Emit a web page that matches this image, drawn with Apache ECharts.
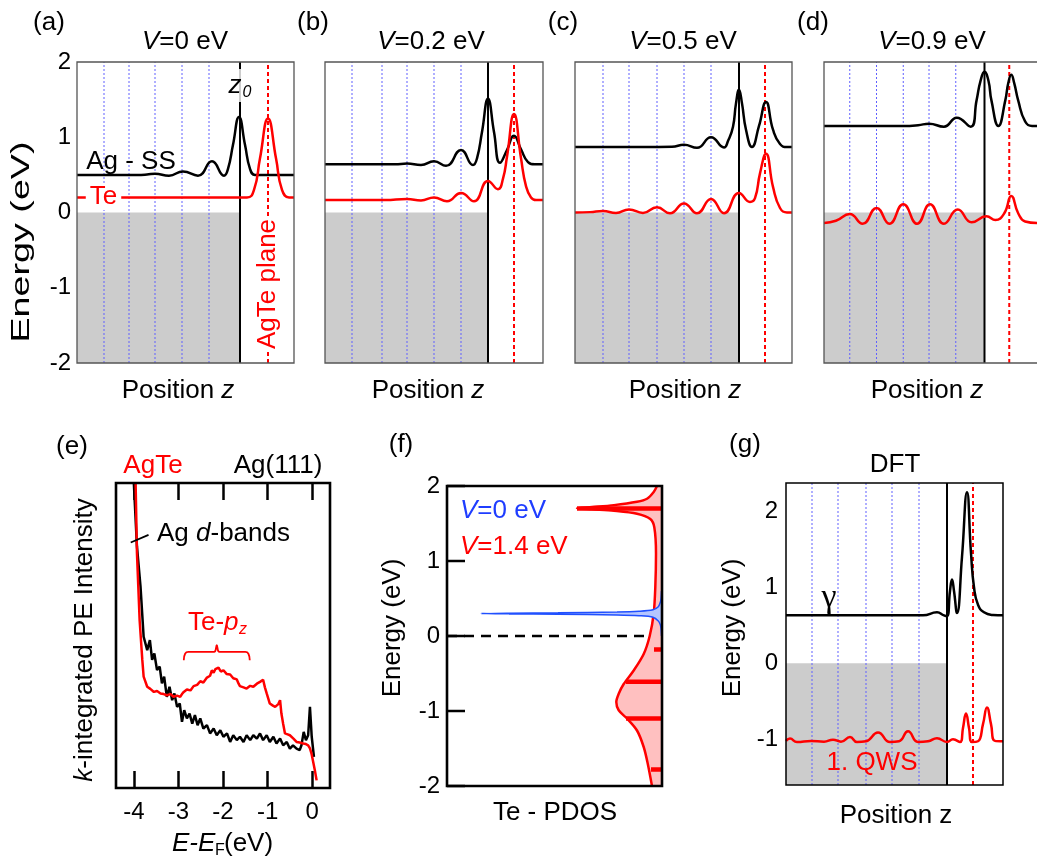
<!DOCTYPE html>
<html>
<head>
<meta charset="utf-8">
<script src="https://cdn.jsdelivr.net/npm/echarts@6.0.0/dist/echarts.min.js"></script>
<style>
html,body{margin:0;padding:0;background:#fff;}
#chart{width:1037px;height:863px;}
</style>
</head>
<body>
<div id="chart"></div>
<script>
// ================= DATA =================
// Panels (a)-(d),(g): x = position along z (offset units), y = energy (eV)
const layersA = [27, 52, 78, 105, 132], z0A = 163, planeA = 191;
const blackA = [[0,0.5],[60,0.5],[70,0.505],[78,0.515],[92,0.49],[106,0.545],[121,0.49],[135,0.68],[147,0.49],[151,0.58],[156,0.9],[162,1.27],[168,0.9],[173,0.58],[178,0.5],[186,0.5],[217,0.5]];
const redA = [[0,0.2],[170,0.2],[177,0.3],[183,0.72],[191,1.25],[199,0.72],[205,0.3],[212,0.2],[217,0.2]];

const layersB = [27, 57, 82, 109, 136], z0B = 163, planeB = 189;
const blackB = [[0,0.64],[70,0.64],[82,0.65],[96,0.63],[109,0.68],[121,0.62],[136,0.83],[148,0.63],[152,0.72],[157,1.07],[163,1.51],[169,1.07],[175,0.66],[182,0.83],[189,1.02],[196,0.84],[203,0.67],[210,0.64],[218,0.64]];
const redB = [[0,0.166],[60,0.166],[82,0.18],[96,0.16],[109,0.2],[122,0.15],[136,0.26],[149,0.15],[163,0.42],[173,0.31],[178,0.45],[182,0.74],[189,1.31],[196,0.72],[201,0.35],[206,0.2],[211,0.166],[218,0.166]];

const layersC = [28, 54, 82, 109, 136], z0C = 164, planeC = 190;
const blackC = [[0,0.87],[70,0.87],[97,0.875],[109,0.9],[122,0.86],[136,1.0],[149,0.865],[153,0.95],[158,1.14],[161,1.45],[164,1.63],[167,1.45],[171,1.1],[177,0.87],[184,1.15],[191,1.47],[198,1.1],[205,0.91],[212,0.87],[217,0.87]];
const redC = [[0,0],[15,0.005],[28,0.02],[41,-0.005],[54,0.04],[68,-0.005],[82,0.07],[95,-0.01],[109,0.12],[122,-0.01],[136,0.18],[149,-0.01],[164,0.26],[175,0.14],[180,0.19],[185,0.52],[191,0.78],[198,0.34],[205,0.06],[212,0],[217,0]];

const layersD = [26, 53, 80, 106, 133], z0D = 162, planeD = 187;
const blackD = [[0,1.15],[80,1.15],[95,1.16],[106,1.18],[121,1.14],[134,1.26],[148,1.14],[154,1.49],[158,1.75],[162,1.87],[166,1.75],[169,1.49],[176,1.15],[183,1.49],[186,1.72],[189,1.83],[192,1.72],[196,1.49],[203,1.21],[210,1.15],[215,1.15]];
const redD = [[0,-0.14],[12,-0.11],[26,-0.02],[39,-0.15],[53,0.06],[66,-0.15],[80,0.11],[94,-0.15],[107,0.11],[121,-0.15],[135,0.04],[149,-0.13],[164,-0.05],[173,-0.1],[182,-0.01],[189,0.22],[196,-0.01],[203,-0.12],[215,-0.14]];

const layersG = [26, 52, 80, 106, 133], z0G = 161, planeG = 187;
const blackG = [[0,0.63],[137,0.63],[151,0.67],[158,0.63],[161,0.62],[164,0.95],[166,1.1],[168,0.95],[171,0.66],[176,1.4],[181,2.25],[185,1.45],[188,1.0],[192,0.77],[198,0.67],[207,0.635],[217,0.63]];
const redG = [[0,-1.02],[4,-0.99],[11,-1.035],[25,-1.02],[38,-1.03],[47,-1.005],[55,-1.03],[64,-0.97],[71,-1.035],[80,-1.025],[92,-0.91],[104,-1.035],[113,-1.025],[122,-0.895],[132,-1.035],[142,-1.025],[151,-0.985],[161,-1.035],[167,-1.0],[174,-1.035],[177,-0.85],[180,-0.66],[183,-0.85],[186,-1.035],[192,-1.025],[197,-0.8],[201,-0.58],[205,-0.8],[209,-1.02],[217,-1.025]];
const gTicks = [-1, 0, 1, 2];

// Panel (e): x = E-E_F (eV), y = intensity (arb. units)
const eTicks = [-4, -3, -2, -1, 0];
const eAgTe = [[-3.96,100],[-3.93,77],[-3.87,55],[-3.81,42],[-3.78,36.5],[-3.70,33.2],[-3.63,32.5],[-3.55,31.5],[-3.48,31.8],[-3.40,31],[-3.33,30.8],[-3.26,30.4],[-3.18,30.8],[-3.11,29.9],[-3.03,30.3],[-2.96,29.9],[-2.92,30.8],[-2.88,31.5],[-2.81,32.3],[-2.73,32.0],[-2.66,33.4],[-2.58,33.8],[-2.51,35],[-2.44,34.6],[-2.36,36.2],[-2.29,36.8],[-2.25,38.6],[-2.21,37.8],[-2.17,39.0],[-2.10,39.5],[-2.05,38.2],[-1.99,38.6],[-1.92,37.4],[-1.84,37.2],[-1.77,36.0],[-1.69,35.6],[-1.65,34.2],[-1.62,33.4],[-1.54,33.0],[-1.47,32.6],[-1.39,33.5],[-1.32,33.2],[-1.24,34.2],[-1.17,34.8],[-1.10,35.5],[-1.06,33.0],[-1.02,31.0],[-0.95,27.7],[-0.88,27.0],[-0.83,26.6],[-0.76,27.5],[-0.72,28.8],[-0.69,24.4],[-0.65,21],[-0.61,17.9],[-0.55,17.6],[-0.50,17.3],[-0.42,16.2],[-0.35,15.1],[-0.28,14.9],[-0.20,14.6],[-0.14,14.4],[-0.09,14.0],[-0.05,13.0],[-0.015,11.3],[0.03,8],[0.06,5.8],[0.10,2.5]];
const eAg111 = [[-4.0,100],[-3.93,79.2],[-3.85,66],[-3.78,49.6],[-3.70,45.2],[-3.64,48.5],[-3.59,42],[-3.54,44.1],[-3.48,38.7],[-3.42,39.8],[-3.37,34.3],[-3.32,36.5],[-3.26,29.9],[-3.20,33.2],[-3.14,28.8],[-3.09,31],[-3.03,26.6],[-2.97,27.7],[-2.92,21.7],[-2.87,25.5],[-2.81,22.8],[-2.75,24.4],[-2.69,21.1],[-2.63,23.9],[-2.57,20.6],[-2.51,22.8],[-2.44,19.5],[-2.36,20.6],[-2.29,17.9],[-2.21,19.5],[-2.14,17.3],[-2.06,18.9],[-1.99,16.8],[-1.91,17.9],[-1.84,15.1],[-1.77,17.3],[-1.69,15.7],[-1.62,16.8],[-1.54,15.1],[-1.47,17.3],[-1.39,15.7],[-1.32,17.3],[-1.24,16.2],[-1.17,17.9],[-1.10,15.7],[-1.02,17.3],[-0.95,15.1],[-0.87,16.8],[-0.80,14.6],[-0.72,16.2],[-0.65,14.0],[-0.57,15.1],[-0.50,12.9],[-0.43,14.0],[-0.35,12.9],[-0.28,12.4],[-0.24,14.0],[-0.19,18.4],[-0.14,15.7],[-0.09,17.3],[-0.05,26.6],[-0.01,16.8],[0.04,10.2]];
const eBrace = [[-2.88,41.9],[-2.85,44.0],[-2.78,44.6],[-2.20,44.6],[-2.14,46.8],[-2.08,44.6],[-1.50,44.6],[-1.43,44.0],[-1.40,41.9]];
const ePointer = [[-4.07,80.5],[-3.67,83.0]];

// Panel (f): x = Te PDOS (arb. units, grows to the left), y = energy (eV)
const fTicks = [-2, -1, 0, 1, 2];
const fRed = [[5,2.0],[8.3,1.92],[15,1.83],[25,1.79],[48,1.745],[70,1.72],[85,1.705],[70,1.69],[48,1.67],[25,1.63],[11.7,1.56],[7.7,1.45],[6,1.1],[6.7,0.65],[8.3,0.3],[12.3,0.0],[18.3,-0.24],[28.3,-0.46],[38.3,-0.64],[43.3,-0.77],[45.7,-0.88],[43.3,-0.99],[35,-1.1],[25,-1.26],[18.3,-1.48],[14.3,-1.7],[10,-2.0]];
const fBlue = [[0.5,0.6],[1.0,0.5],[1.7,0.45],[3.7,0.39],[9,0.35],[23,0.33],[45,0.32],[104,0.31],[153,0.305],[181,0.3],[153,0.295],[104,0.29],[45,0.28],[23,0.27],[9,0.25],[3.7,0.2],[1.7,0.15],[1.0,0.1],[0.5,0.0]];
const fBarE = [1.7, -0.18, -0.61, -1.1, -1.78];
const fBarLen = [85, 8, 36, 36, 11];
const fZero = [[215,0],[12,0]];

// ================= LAYOUT / STYLE =================
const F = '"Liberation Sans", Arial, Helvetica, sans-serif';
const RED = '#ff0000', BLK = '#000000', BLUEDOT = '#6060ff', GRAY = '#cccccc';
const FS = 26;
const G = [
  {left:77,  top:62,  width:217, height:301},   // a
  {left:325, top:62,  width:218, height:301},   // b
  {left:575, top:62,  width:217, height:301},   // c
  {left:824, top:62,  width:215, height:301},   // d
  {left:116, top:483, width:214, height:305},   // e
  {left:447, top:486, width:215, height:300},   // f
  {left:786, top:483, width:217, height:302}    // g
];

function hiddenX(gi, max) { return {gridIndex: gi, type: 'value', min: 0, max: max, show: false}; }
function hiddenY(gi, mn, mx) { return {gridIndex: gi, type: 'value', min: mn, max: mx, show: false}; }

const xAxis = [
  hiddenX(0, G[0].width), hiddenX(1, G[1].width), hiddenX(2, G[2].width), hiddenX(3, G[3].width),
  {gridIndex: 4, type: 'value', min: -4.4, max: 0.4, position: 'bottom',
   axisLine: {show: false, onZero: false}, splitLine: {show: false},
   axisTick: {inside: true, length: 17, customValues: eTicks, lineStyle: {color: BLK, width: 2.5}},
   axisLabel: {customValues: eTicks, fontSize: 24, fontFamily: F, color: BLK, margin: 12}},
  {gridIndex: 5, type: 'value', min: 0, max: 215, inverse: true, show: false},
  hiddenX(6, G[6].width),
  {gridIndex: 4, type: 'value', min: -4.4, max: 0.4, position: 'top',
   axisLine: {show: false, onZero: false}, splitLine: {show: false}, axisLabel: {show: false},
   axisTick: {inside: true, length: 17, customValues: eTicks, lineStyle: {color: BLK, width: 2.5}}}
];
const yAxis = [
  {gridIndex: 0, type: 'value', min: -2, max: 2, interval: 1, position: 'left',
   axisLine: {show: false, onZero: false}, axisTick: {show: false}, splitLine: {show: false},
   axisLabel: {fontSize: 24, fontFamily: F, color: BLK, margin: 6}},
  hiddenY(1, -2, 2), hiddenY(2, -2, 2), hiddenY(3, -2, 2),
  hiddenY(4, 0, 100),
  {gridIndex: 5, type: 'value', min: -2, max: 2, interval: 1, position: 'left',
   axisLine: {show: false, onZero: false}, splitLine: {show: false}, axisTick: {show: false},
   axisLabel: {fontSize: 24, fontFamily: F, color: BLK, margin: 7}},
  {gridIndex: 6, type: 'value', min: -1.6, max: 2.37, position: 'left',
   axisLine: {show: false, onZero: false}, axisTick: {show: false}, splitLine: {show: false},
   axisLabel: {customValues: gTicks, fontSize: 24, fontFamily: F, color: BLK, margin: 8}}
];

function curve(ax, data, color, z, smooth, width) {
  return {type: 'line', xAxisIndex: ax, yAxisIndex: ax, data: data, smooth: smooth === undefined ? 0.5 : smooth,
    symbol: 'none', lineStyle: {color: color, width: width || 2.5}, z: z || 5, silent: true};
}
function vlines(ax, xs, y0, y1, style, z) {
  return {type: 'custom', xAxisIndex: ax, yAxisIndex: ax, z: z, silent: true,
    data: xs.map(function (x) { return [x, y0, y1]; }),
    renderItem: function (p, api) {
      const a = api.coord([api.value(0), api.value(1)]);
      const b = api.coord([api.value(0), api.value(2)]);
      return {type: 'line', shape: {x1: a[0], y1: a[1], x2: b[0], y2: b[1]}, style: style};
    }};
}
function box(ax, x0, x1, y0, y1, fill, z) {
  return {type: 'custom', xAxisIndex: ax, yAxisIndex: ax, z: z, silent: true,
    data: [[x0, y0, x1, y1]],
    renderItem: function (p, api) {
      const a = api.coord([api.value(0), api.value(3)]);
      const b = api.coord([api.value(2), api.value(1)]);
      return {type: 'rect', shape: {x: a[0], y: a[1], width: b[0] - a[0], height: b[1] - a[1]}, style: {fill: fill}};
    }};
}
function poly(ax, pts, fill, z) {
  return {type: 'custom', xAxisIndex: ax, yAxisIndex: ax, z: z, silent: true, data: [[0, 0]],
    renderItem: function (p, api) {
      return {type: 'polygon', shape: {points: pts.map(function (q) { return api.coord(q); })}, style: {fill: fill}};
    }};
}

const blueDot = {stroke: BLUEDOT, lineWidth: 1, lineDash: [2, 2]};
const redDot = {stroke: RED, lineWidth: 2, lineDash: [4, 3]};
const blackSolid = {stroke: BLK, lineWidth: 2};

function potentialPanel(ax, layers, z0, plane, black, red, ymin, ymax) {
  return [
    box(ax, 0, z0, ymin, 0, GRAY, 1),
    vlines(ax, layers, ymin, ymax, blueDot, 2),
    vlines(ax, [z0], ymin, ymax, blackSolid, 2),
    vlines(ax, [plane], ymin, ymax, redDot, 2),
    curve(ax, black, BLK, 5),
    curve(ax, red, RED, 5)
  ];
}

let series = [];
series = series.concat(potentialPanel(0, layersA, z0A, planeA, blackA, redA, -2, 2));
series = series.concat(potentialPanel(1, layersB, z0B, planeB, blackB, redB, -2, 2));
series = series.concat(potentialPanel(2, layersC, z0C, planeC, blackC, redC, -2, 2));
series = series.concat(potentialPanel(3, layersD, z0D, planeD, blackD, redD, -2, 2));
series = series.concat(potentialPanel(6, layersG, z0G, planeG, blackG, redG, -1.6, 2.37));
// (e)
series.push(curve(4, eAg111, BLK, 5, false, 2.5));
series.push(curve(4, eAgTe, RED, 6, false, 2.5));
series.push(curve(4, eBrace, RED, 6, 0.4, 1.8));
series.push(curve(4, ePointer, BLK, 6, false, 1.8));
// (f)
series.push(poly(5, [[0, 2]].concat(fRed, [[0, -2]]), '#ffc0c0', 1));
series.push(curve(5, fZero, BLK, 3, false, 2.5));
series[series.length - 1].lineStyle.type = [10, 7];
series.push(curve(5, fRed, RED, 4, 0.3, 2.5));
series.push({type: 'custom', xAxisIndex: 5, yAxisIndex: 5, z: 5, silent: true,
  data: fBarLen.map(function (l, i) { return [l, fBarE[i]]; }),
  renderItem: function (p, api) {
    const a = api.coord([0, api.value(1)]);
    const b = api.coord([api.value(0), api.value(1)]);
    return {type: 'line', shape: {x1: a[0], y1: a[1], x2: b[0], y2: b[1]}, style: {stroke: RED, lineWidth: 4.5}};
  }});
series.push(poly(5, [[0, fBlue[0][1]]].concat(fBlue, [[0, fBlue[fBlue.length - 1][1]]]), '#b5c5ff', 6));
series.push(curve(5, fBlue, '#2050ff', 7, 0.3, 1.5));
// (f) inward y ticks on the left side, placed through the axis scale
series.push({type: 'custom', xAxisIndex: 5, yAxisIndex: 5, z: 8, silent: true,
  data: fTicks.map(function (v) { return [215, v]; }),
  renderItem: function (p, api) {
    const a = api.coord([api.value(0), api.value(1)]);
    return {type: 'line', shape: {x1: a[0], y1: a[1], x2: a[0] + 18, y2: a[1]}, style: {stroke: BLK, lineWidth: 2.5}};
  }});

// ================= TEXT & FRAMES =================
function T(x, y, text, o) {
  o = o || {};
  const fs = o.fs || FS, fill = o.fill || BLK, fam = o.fam || F;
  const el = {
    type: 'text', x: x, y: y, z: o.z || 100, rotation: o.rot || 0, scaleX: o.sx || 1, scaleY: 1, silent: true,
    style: {
      text: text, fill: fill, fontSize: fs, fontFamily: fam, fontStyle: o.it ? 'italic' : 'normal',
      textAlign: o.align || 'center', textVerticalAlign: 'middle',
      rich: {i: {fontStyle: 'italic', fontSize: fs, fontFamily: fam, fill: fill}}
    }
  };
  if (o.bg) { el.style.backgroundColor = o.bg; el.style.padding = o.pad || [0, 3]; }
  return el;
}
function frame(i, stroke, lw) {
  const g = G[i];
  return {type: 'rect', z: 90, silent: true, shape: {x: g.left, y: g.top, width: g.width, height: g.height},
    style: {fill: 'none', stroke: stroke, lineWidth: lw}};
}
const H = Math.PI / 2;
const graphic = [
  frame(0, '#555', 1.3), frame(1, '#555', 1.3), frame(2, '#555', 1.3), frame(3, '#555', 1.3),
  frame(4, BLK, 2.6), frame(5, BLK, 2.6), frame(6, BLK, 1.5),
  // panel labels
  T(49, 23, '(a)'), T(313, 23, '(b)'), T(563, 23, '(c)'), T(813, 23, '(d)'),
  T(72, 447, '(e)'), T(401, 445, '(f)'), T(745, 445, '(g)'),
  // titles
  T(185, 42, '{i|V}=0 eV'), T(431, 42, '{i|V}=0.2 eV'), T(683, 42, '{i|V}=0.5 eV'), T(932, 42, '{i|V}=0.9 eV'),
  // x labels
  T(178, 391, 'Position {i|z}'), T(428, 391, 'Position {i|z}'), T(685, 391, 'Position {i|z}'), T(927, 391, 'Position {i|z}'),
  T(896, 816, 'Position z'),
  // y labels
  T(22, 242, 'Energy (eV)', {rot: H, sx: 1.45}),
  T(393, 628, 'Energy (eV)', {rot: H}),
  T(733, 628, 'Energy (eV)', {rot: H}),
  T(85, 640, '{i|k}-integrated PE Intensity', {rot: H}),
  // (a) annotations
  {type: 'rect', z: 95, silent: true, shape: {x: 230, y: 69, width: 24, height: 33}, style: {fill: 'rgba(255,255,255,0.8)'}},
  T(235, 86, 'z', {it: true}), T(247, 93, '0', {it: true, fs: 16}),
  T(131, 162, 'Ag - SS'),
  T(103.5, 197, 'Te', {fill: RED, bg: '#fff', pad: [0, 4]}),
  T(268, 284, 'AgTe plane', {fill: RED, rot: H, bg: '#fff', pad: [0, 2]}),
  // (e) annotations
  T(153, 466, 'AgTe', {fill: RED}), T(278, 466, 'Ag(111)'),
  T(157, 534, 'Ag {i|d}-bands', {align: 'left'}),
  T(188, 623, 'Te-{i|p}', {align: 'left', fill: RED}), T(239, 630, 'z', {align: 'left', fill: RED, fs: 16, it: true}),
  T(172, 844, '{i|E-E}', {align: 'left'}), T(215, 851, 'F', {align: 'left', fs: 16}), T(224, 844, '(eV)', {align: 'left'}),
  // (f) annotations
  T(460, 511, '{i|V}=0 eV', {align: 'left', fill: '#1f3dff'}),
  T(460, 547, '{i|V}=1.4 eV', {align: 'left', fill: RED}),
  T(555, 813, 'Te - PDOS'),
  // (g) annotations
  T(895, 465, 'DFT'),
  T(829, 598, 'γ', {fs: 34, fam: '"Liberation Serif", "DejaVu Serif", serif'}),
  T(872, 763, '1. QWS', {fill: RED})
];

const chart = echarts.init(document.getElementById('chart'), null, {renderer: 'canvas'});
chart.setOption({
  animation: false,
  backgroundColor: '#ffffff',
  grid: G.map(function (g) { return {left: g.left, top: g.top, width: g.width, height: g.height, containLabel: false}; }),
  xAxis: xAxis,
  yAxis: yAxis,
  series: series,
  graphic: graphic
});
</script>
</body>
</html>
